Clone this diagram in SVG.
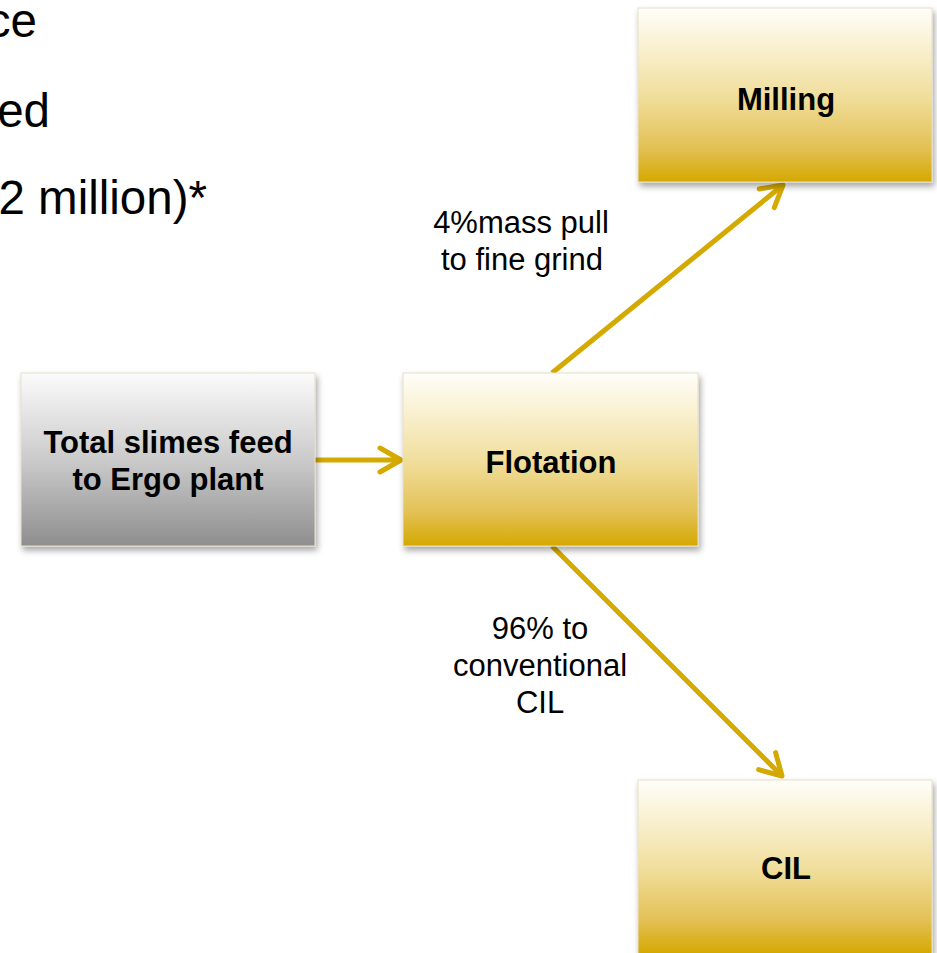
<svg xmlns="http://www.w3.org/2000/svg" width="937" height="953" viewBox="0 0 937 953">
  <defs>
    <linearGradient id="gold" x1="0" y1="0" x2="0" y2="1">
      <stop offset="0" stop-color="#fffefa"/>
      <stop offset="0.15" stop-color="#fbf5de"/>
      <stop offset="0.5" stop-color="#f1df9e"/>
      <stop offset="0.8" stop-color="#e3c156"/>
      <stop offset="1" stop-color="#d5a800"/>
    </linearGradient>
    <linearGradient id="grey" x1="0" y1="0" x2="0" y2="1">
      <stop offset="0" stop-color="#fbfbfb"/>
      <stop offset="0.5" stop-color="#cbcbcb"/>
      <stop offset="1" stop-color="#8e8e8e"/>
    </linearGradient>
    <filter id="shadow" x="-10%" y="-10%" width="120%" height="130%">
      <feDropShadow dx="2" dy="4" stdDeviation="3" flood-color="#000" flood-opacity="0.35"/>
    </filter>
    <marker id="arrow" markerUnits="userSpaceOnUse" markerWidth="40" markerHeight="40" refX="0" refY="0" viewBox="-30 -20 40 40" orient="auto" overflow="visible">
      <path d="M-21,-12 L0,0 L-21,12" fill="none" stroke="#d4a900" stroke-width="5" stroke-linecap="round" stroke-linejoin="round"/>
    </marker>
    <style>
      .box { stroke: #e6dfc8; stroke-width: 1; filter: url(#shadow); }
      .bold { font-family: "Liberation Sans", Arial, sans-serif; font-weight: bold; font-size: 31px; fill: #000; text-anchor: middle; }
      .lbl { font-family: "Liberation Sans", Arial, sans-serif; font-size: 31px; fill: #000; text-anchor: middle; }
      .bullet { font-family: "Liberation Sans", Arial, sans-serif; font-size: 47.5px; fill: #000; text-anchor: end; }
      .conn { stroke: #d4a900; stroke-width: 5; fill: none; marker-end: url(#arrow); }
    </style>
  </defs>

  <rect width="937" height="953" fill="#ffffff"/>

  <g id="bullets">
    <text class="bullet" x="37" y="37">ce</text>
    <text class="bullet" x="50" y="127">ed</text>
    <text class="bullet" x="207" y="214">2 million)*</text>
  </g>

  <g id="connectors">
    <line class="conn" x1="315" y1="460" x2="401" y2="460"/>
    <line class="conn" x1="552" y1="373" x2="783" y2="185"/>
    <line class="conn" x1="552" y1="546" x2="782" y2="776"/>
  </g>

  <g id="labels">
    <text class="lbl" x="521" y="233">4%mass pull</text>
    <text class="lbl" x="522" y="270">to fine grind</text>
    <text class="lbl" x="540" y="639">96% to</text>
    <text class="lbl" x="540" y="676">conventional</text>
    <text class="lbl" x="540" y="713">CIL</text>
  </g>

  <g id="node-feed">
    <rect class="box" x="21" y="373" width="294" height="173" fill="url(#grey)"/>
    <text class="bold" x="168" y="453">Total slimes feed</text>
    <text class="bold" x="168" y="490">to Ergo plant</text>
  </g>

  <g id="node-flotation">
    <rect class="box" x="403" y="373" width="295" height="173" fill="url(#gold)"/>
    <text class="bold" x="551" y="473">Flotation</text>
  </g>

  <g id="node-milling">
    <rect class="box" x="638" y="8" width="294" height="174" fill="url(#gold)"/>
    <text class="bold" x="786" y="110">Milling</text>
  </g>

  <g id="node-cil">
    <rect class="box" x="638" y="780" width="294" height="174" fill="url(#gold)"/>
    <text class="bold" x="786" y="879">CIL</text>
  </g>
</svg>
